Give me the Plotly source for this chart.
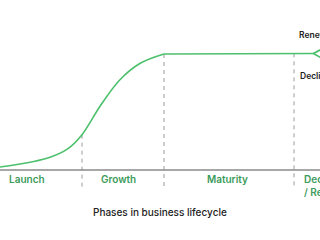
import plotly.graph_objects as go

# Lifecycle curve (x in phase units, y in relative size; 100 = maturity plateau)
growth_x = [0.0, 0.40, 0.61, 0.82, 1.0, 1.22, 1.46, 1.71, 2.0]
growth_y = [2.6, 7.2, 11.0, 18.0, 30.5, 55.0, 77.6, 92.0, 100.0]

plateau_x = [2.0, 3.585, 3.82]
plateau_y = [100.0, 100.6, 100.4]

renew_x = [3.82, 3.90, 4.00]
renew_y = [100.4, 103.4, 107.0]
decline_x = [3.82, 3.90, 4.00]
decline_y = [100.4, 97.4, 93.5]

# Phase boundaries and where dashed guides start
bound_x = [1.0, 2.0, 3.585]
bound_top = [30.5, 100.0, 100.6]
bound_bottom = -16.4

phase_names = ["Launch", "Growth", "Maturity", "Decline<br>/ Renewal"]
phase_x = [0.33, 1.45, 2.77, 3.68]
phase_anchor = ["center", "center", "center", "left"]

branch_labels = ["Renewal", "Decline"]
branch_label_x = [3.62, 3.63]
branch_label_y = [116.4, 81.0]

title_text = "Phases in business lifecycle"

GREEN = "#4cc06c"
LABEL_GREEN = "#3d9b5b"
GREY = "#9a9a9a"
FONT = "Inter, Lato, sans-serif"

fig = go.Figure()

for bx, bt in zip(bound_x, bound_top):
    fig.add_trace(go.Scatter(x=[bx, bx], y=[bt, bound_bottom], mode="lines",
                             line=dict(color=GREY, width=1, dash="4px,4px"),
                             hoverinfo="skip", showlegend=False))

# x axis baseline
fig.add_trace(go.Scatter(x=[-0.1, 4.1], y=[0, 0], mode="lines",
                         line=dict(color="#8a8a8a", width=1.5),
                         hoverinfo="skip", showlegend=False))

for xs, ys, shape in [(growth_x, growth_y, "spline"), (plateau_x, plateau_y, "linear"),
                      (renew_x, renew_y, "spline"), (decline_x, decline_y, "spline")]:
    fig.add_trace(go.Scatter(x=xs, y=ys, mode="lines",
                             line=dict(color=GREEN, width=1.6, shape=shape),
                             showlegend=False))

for name, px, anc in zip(phase_names, phase_x, phase_anchor):
    multi = "<br>" in name
    fig.add_annotation(x=px, y=-7.8, text=name, showarrow=False,
                       xanchor=anc, yanchor="top" if multi else "middle",
                       align="left",
                       yshift=8 if multi else 0,
                       font=dict(family=FONT, size=10, color=LABEL_GREEN, weight=600))

for name, px, py in zip(branch_labels, branch_label_x, branch_label_y):
    fig.add_annotation(x=px, y=py, text=name, showarrow=False, xanchor="left",
                       font=dict(family=FONT, size=8.5, color="#222222", weight=600))

fig.add_annotation(x=1.95, y=-36.2, text=title_text, showarrow=False,
                   font=dict(family=FONT, size=10, color="#222222", weight=500))

fig.update_layout(
    width=320, height=240,
    margin=dict(l=0, r=0, t=0, b=0),
    paper_bgcolor="white", plot_bgcolor="white",
    xaxis=dict(range=[0, 3.902], visible=False, fixedrange=True),
    yaxis=dict(range=[-60.3, 146.55], visible=False, fixedrange=True),
    showlegend=False,
)

fig.write_html("out.html")
